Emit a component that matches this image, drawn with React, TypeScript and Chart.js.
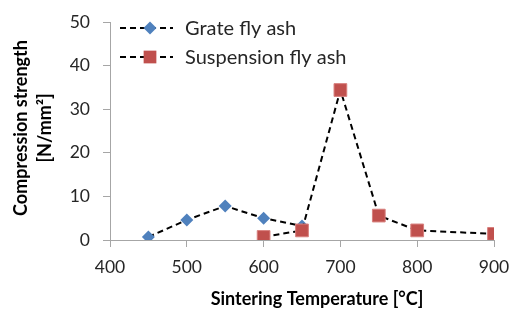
import React, { useEffect, useRef } from "react";
import { Chart, registerables } from "chart.js";

Chart.register(...registerables);

const grateTemps = [450, 500, 550, 600, 650];
const grateValues = [0.7, 4.6, 7.8, 5.0, 3.2];
const suspTemps = [600, 650, 700, 750, 800, 900];
const suspValues = [0.7, 2.2, 34.4, 5.6, 2.2, 1.4];
const seriesNames = ["Grate fly ash", "Suspension fly ash"];
const yTitle = ["Compression strength", "[N/mm²]"];
const xTitle = "Sintering Temperature [°C]";

const BLUE = "#4F81BD";
const RED = "#C0504D";
const FONT = "Lato, 'Open Sans', sans-serif";

const legendPlugin = {
  id: "customLegend",
  afterDraw(chart: any) {
    const { ctx, chartArea } = chart;
    const items = [
      { label: seriesNames[0], color: BLUE, style: "rectRot", r: 6.5 },
      { label: seriesNames[1], color: RED, style: "rect", r: 9 },
    ];
    items.forEach((it, i) => {
      const y = chartArea.top + 6 + i * 29;
      const x0 = chartArea.left + 10;
      ctx.save();
      ctx.strokeStyle = "#000";
      ctx.lineWidth = 2;
      ctx.setLineDash([6, 4]);
      ctx.beginPath();
      ctx.moveTo(x0, y);
      ctx.lineTo(x0 + 53, y);
      ctx.stroke();
      ctx.setLineDash([]);
      ctx.fillStyle = it.color;
      const cx = x0 + 30;
      if (it.style === "rect") {
        const s = it.r * Math.SQRT1_2;
        ctx.fillRect(cx - s, y - s, 2 * s, 2 * s);
      } else {
        ctx.beginPath();
        ctx.moveTo(cx, y - it.r);
        ctx.lineTo(cx + it.r, y);
        ctx.lineTo(cx, y + it.r);
        ctx.lineTo(cx - it.r, y);
        ctx.closePath();
        ctx.fill();
      }
      ctx.fillStyle = "#262626";
      ctx.font = `20px ${FONT}`;
      ctx.textBaseline = "middle";
      ctx.textAlign = "left";
      ctx.fillText(it.label, x0 + 65, y + 1);
      ctx.restore();
    });
  },
};

const titlesPlugin = {
  id: "customTitles",
  afterDraw(chart: any) {
    const { ctx, chartArea } = chart;
    ctx.save();
    ctx.fillStyle = "#000";
    ctx.font = `bold 18px ${FONT}`;
    ctx.textAlign = "center";
    ctx.textBaseline = "middle";
    ctx.fillText(xTitle, (chartArea.left + chartArea.right) / 2 + 15, 299);
    const cy = (chartArea.top + chartArea.bottom) / 2 - 3;
    ctx.translate(21, cy);
    ctx.rotate(-Math.PI / 2);
    ctx.fillText(yTitle[0], 0, 0);
    ctx.fillText(yTitle[1], 0, 24);
    ctx.restore();
  },
};

const zeroPad = (s: any) => {
  s.paddingTop = 0;
  s.paddingBottom = 0;
  s.paddingLeft = 0;
  s.paddingRight = 0;
};

export default function App() {
  const ref = useRef<HTMLCanvasElement>(null);
  useEffect(() => {
    document.body.style.margin = "0";
    document.body.style.overflow = "hidden";
    if (!ref.current) return;
    const chart = new Chart(ref.current, {
      type: "line",
      data: {
        datasets: [
          {
            label: seriesNames[0],
            data: grateTemps.map((t, i) => ({ x: t, y: grateValues[i] })),
            borderColor: "#000",
            borderWidth: 2,
            borderDash: [6, 4],
            pointStyle: "rectRot",
            pointRadius: 6.5,
            pointBackgroundColor: BLUE,
            pointBorderColor: BLUE,
            pointBorderWidth: 0,
            order: 2,
          },
          {
            label: seriesNames[1],
            data: suspTemps.map((t, i) => ({ x: t, y: suspValues[i] })),
            borderColor: "#000",
            borderWidth: 2,
            borderDash: [6, 4],
            pointStyle: "rect",
            pointRadius: 9,
            pointBackgroundColor: RED,
            pointBorderColor: "#D8807E",
            pointBorderWidth: 1,
            order: 1,
          },
        ],
      },
      options: {
        animation: false,
        responsive: false,
        maintainAspectRatio: false,
        layout: { padding: { top: 22, right: 19, left: 0, bottom: 0 } },
        plugins: {
          legend: { display: false },
          tooltip: { enabled: false },
        },
        scales: {
          x: {
            type: "linear",
            min: 400,
            max: 900,
            ticks: { stepSize: 100, color: "#262626", font: { family: FONT, size: 17.5 }, padding: 10 },
            grid: { display: true, drawOnChartArea: false, drawTicks: true, tickLength: 7, color: "#A6A6A6" },
            border: { color: "#A6A6A6", width: 1 },
            title: { display: false },
            afterFit: (s: any) => { s.height = 74; zeroPad(s); },
          },
          y: {
            min: 0,
            max: 50,
            ticks: { stepSize: 10, color: "#262626", font: { family: FONT, size: 17.5 }, padding: 13 },
            grid: { display: true, drawOnChartArea: false, drawTicks: true, tickLength: 7, color: "#A6A6A6" },
            border: { color: "#A6A6A6", width: 1 },
            title: { display: false },
            afterFit: (s: any) => { s.width = 110; zeroPad(s); },
          },
        },
      } as any,
      plugins: [legendPlugin, titlesPlugin],
    });
    return () => chart.destroy();
  }, []);
  return (
    <div style={{ width: 513, height: 314 }}>
      <canvas ref={ref} width={513} height={314} style={{ display: "block", width: 513, height: 314 }} />
    </div>
  );
}
